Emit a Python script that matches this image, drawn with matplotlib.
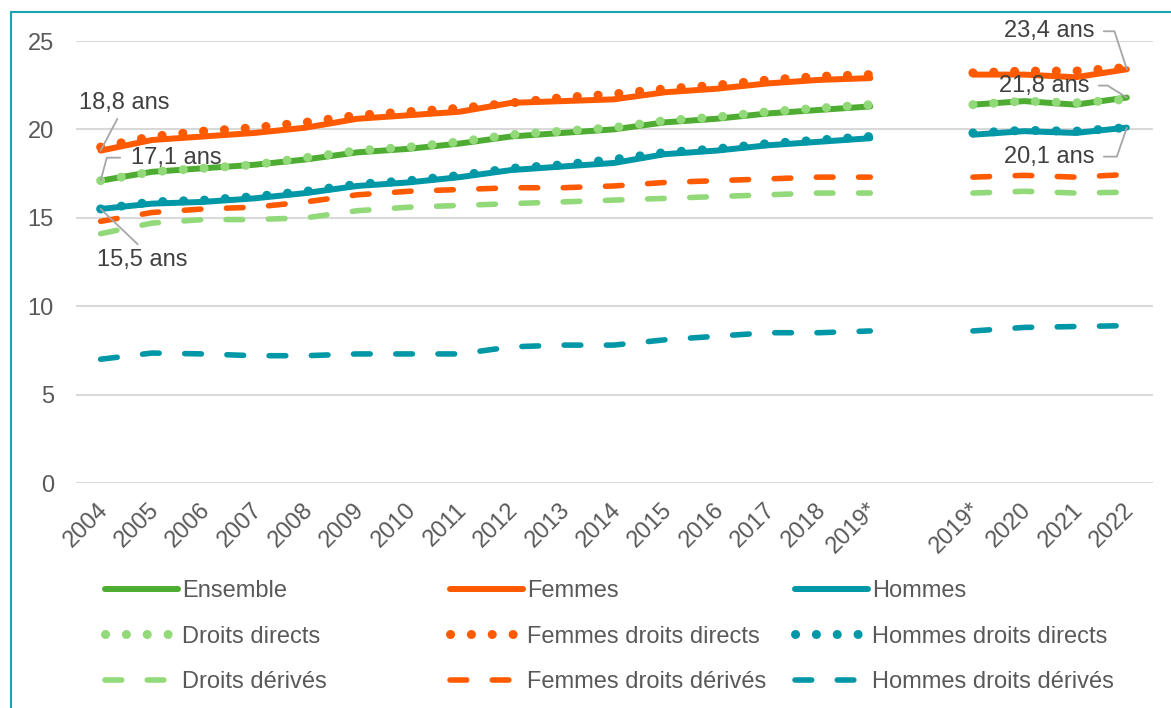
import numpy as np
import matplotlib.pyplot as plt
from matplotlib.patches import Rectangle
from matplotlib.transforms import ScaledTranslation

plt.rcParams['font.family'] = ['Liberation Sans', 'DejaVu Sans']

# Donnees, None = rupture de serie
annees = ['2004', '2005', '2006', '2007', '2008', '2009', '2010', '2011', '2012',
          '2013', '2014', '2015', '2016', '2017', '2018', '2019*', '',
          '2019*', '2020', '2021', '2022']

ensemble = [17.1, 17.6, 17.8, 18.0, 18.3, 18.7, 18.9, 19.2, 19.6, 19.8, 20.0, 20.4,
            20.6, 20.9, 21.1, 21.3, None, 21.4, 21.6, 21.4, 21.8]
femmes = [18.8, 19.4, 19.6, 19.8, 20.1, 20.6, 20.8, 21.0, 21.5, 21.6, 21.7, 22.1,
          22.3, 22.6, 22.8, 22.9, None, 23.1, 23.1, 22.95, 23.4]
hommes = [15.5, 15.8, 15.9, 16.1, 16.4, 16.8, 17.0, 17.3, 17.7, 17.9, 18.1, 18.6,
          18.8, 19.1, 19.3, 19.5, None, 19.7, 19.9, 19.8, 20.1]

droits_directs = [17.1, 17.6, 17.8, 18.0, 18.4, 18.8, 19.0, 19.3, 19.7, 19.9, 20.1,
                  20.5, 20.7, 21.0, 21.2, 21.4, None, 21.4, 21.6, 21.5, 21.7]
femmes_dd = [19.0, 19.6, 19.9, 20.1, 20.4, 20.8, 21.0, 21.2, 21.5, 21.8, 22.0, 22.3,
             22.5, 22.8, 23.0, 23.1, None, 23.2, 23.3, 23.3, 23.5]
hommes_dd = [15.5, 15.9, 16.0, 16.2, 16.5, 16.9, 17.1, 17.4, 17.8, 18.0, 18.3, 18.7,
             18.9, 19.2, 19.4, 19.6, None, 19.8, 19.95, 19.9, 20.1]

droits_derives = [14.1, 14.7, 14.9, 14.9, 15.0, 15.4, 15.6, 15.7, 15.8, 15.9, 16.0,
                  16.1, 16.2, 16.3, 16.4, 16.4, None, 16.4, 16.5, 16.4, 16.45]
femmes_der = [14.8, 15.3, 15.5, 15.6, 15.9, 16.3, 16.5, 16.6, 16.7, 16.7, 16.8, 17.0,
              17.1, 17.2, 17.3, 17.3, None, 17.3, 17.4, 17.3, 17.45]
hommes_der = [7.0, 7.35, 7.3, 7.2, 7.2, 7.3, 7.3, 7.3, 7.7, 7.8, 7.8, 8.1, 8.3, 8.5,
              8.5, 8.6, None, 8.6, 8.8, 8.85, 8.9]

vert = '#4EAC32'
vert_clair = '#92D97A'
orange = '#FF5A00'
bleu = '#0097A7'
gris = '#595959'

fig = plt.figure(figsize=(11.71, 7.08), dpi=100)
ax = fig.add_axes([76 / 1171, 1 - 483 / 708, (1153 - 76) / 1171, (483 - 41) / 708])

x = np.arange(len(annees))

def arr(v):
    return np.array(v, dtype=float)

plein = dict(lw=4.3, solid_capstyle='round', solid_joinstyle='round')
points = dict(lw=6.5, linestyle=(0, (0.01, 2.3)), dash_capstyle='round')
tirets = dict(lw=4.0, linestyle=(0, (3.0, 4.6)), dash_capstyle='round')

series = [
    (ensemble, vert, plein, 'Ensemble'),
    (femmes, orange, plein, 'Femmes'),
    (hommes, bleu, plein, 'Hommes'),
    (droits_directs, vert_clair, points, 'Droits directs'),
    (femmes_dd, orange, points, 'Femmes droits directs'),
    (hommes_dd, bleu, points, 'Hommes droits directs'),
    (droits_derives, vert_clair, tirets, 'Droits dérivés'),
    (femmes_der, orange, tirets, 'Femmes droits dérivés'),
    (hommes_der, bleu, tirets, 'Hommes droits dérivés'),
]

handles = []
for vals, c, st, lab in series:
    ln, = ax.plot(x, arr(vals), color=c, label=lab, **st)
    handles.append(ln)

ax.set_xlim(-0.48, 20.51)
ax.set_ylim(0, 25)
ax.set_yticks([0, 5, 10, 15, 20, 25])
ax.grid(axis='y', color='#D9D9D9', lw=1.5)
ax.set_axisbelow(True)
for s in ax.spines.values():
    s.set_visible(False)
ax.tick_params(axis='y', length=0, pad=16, labelsize=17, labelcolor=gris)
ax.set_xticks(x)
ax.set_xticklabels(annees, rotation=45, ha='right', va='center', rotation_mode='anchor')
ax.tick_params(axis='x', length=0, pad=17, labelsize=17, labelcolor=gris)
decal = ScaledTranslation(4 / 100, 0, fig.dpi_scale_trans)
for t in ax.get_xticklabels():
    t.set_transform(t.get_transform() + decal)

# etiquettes
def lbl(v):
    return ('%.1f ans' % v).replace('.', ',')

fl = dict(arrowstyle='-', color='#A6A6A6', lw=1.3, shrinkB=0)
txt = dict(textcoords='offset pixels', fontsize=17, color='#404040',
           ha='center', va='center', annotation_clip=False)

ax.annotate(lbl(femmes[0]), (x[0], femmes[0]), xytext=(24, 48),
            arrowprops=dict(relpos=(0.45, 0), shrinkA=2, **fl), **txt)
ax.annotate(lbl(ensemble[0]), (x[0], ensemble[0]), xytext=(76, 23),
            arrowprops=dict(relpos=(0, 0.5), shrinkA=6,
                            connectionstyle='angle,angleA=0,angleB=75,rad=0', **fl), **txt)
ax.annotate(lbl(hommes[0]), (x[0], hommes[0]), xytext=(42, -51),
            arrowprops=dict(relpos=(0.5, 1), shrinkA=2, **fl), **txt)
ax.annotate(lbl(femmes[-1]), (x[-1], femmes[-1]), xytext=(-78, 38),
            arrowprops=dict(relpos=(1, 0.5), shrinkA=5,
                            connectionstyle='angle,angleA=0,angleB=108,rad=0', **fl), **txt)
ax.annotate(lbl(ensemble[-1]), (x[-1], ensemble[-1]), xytext=(-83, 12),
            arrowprops=dict(relpos=(1, 0.5), shrinkA=5,
                            connectionstyle='angle,angleA=0,angleB=148,rad=0', **fl), **txt)
ax.annotate(lbl(hommes[-1]), (x[-1], hommes[-1]), xytext=(-78, -29),
            arrowprops=dict(relpos=(1, 0.5), shrinkA=5,
                            connectionstyle='angle,angleA=0,angleB=71,rad=0', **fl), **txt)

# legende en 3 colonnes
for i, xl in enumerate([105, 450, 795]):
    h = [handles[i], handles[i + 3], handles[i + 6]]
    fig.legend(h, [l.get_label() for l in h], loc='upper left',
               bbox_to_anchor=(xl / 1171, 1 - 580 / 708), frameon=False,
               borderpad=0, borderaxespad=0, handlelength=3.1, handletextpad=0.17,
               labelspacing=1.0, fontsize=17, labelcolor=gris)

# cadre
fig.patches.append(Rectangle((11 / 1171, -0.1), 2, 1.1 - 12 / 708, transform=fig.transFigure,
                             fill=False, edgecolor='#1AA3B3', lw=1.5))

fig.savefig('out.png', dpi=100)
